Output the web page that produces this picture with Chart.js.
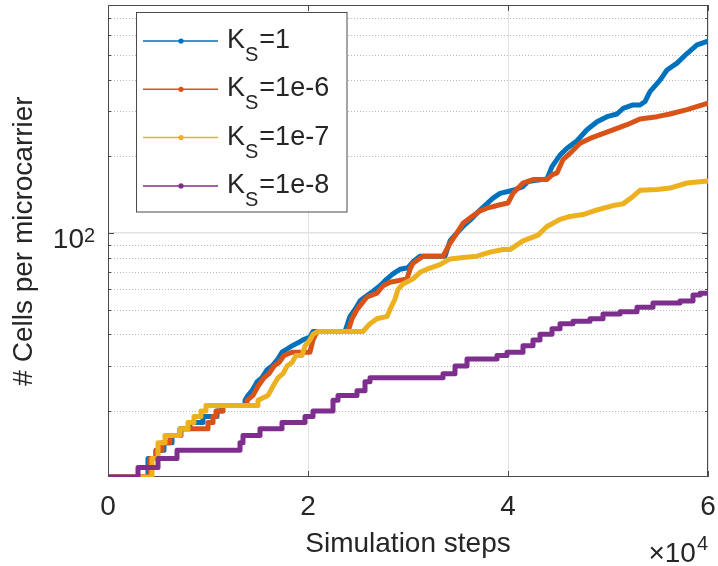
<!DOCTYPE html>
<html>
<head>
<meta charset="utf-8">
<script src="https://cdn.jsdelivr.net/npm/chart.js@4.4.0/dist/chart.umd.min.js"></script>
<style>
  html, body { margin: 0; padding: 0; background: #fff; }
  canvas { display: block; }
</style>
</head>
<body>
<canvas id="chart" width="718" height="566"></canvas>
<script>
// data: simulation step vs cells per microcarrier
const ksValues = ['1', '1e-6', '1e-7', '1e-8'];
const colors = ['#0072BD', '#D95319', '#EDB120', '#7E2F8E'];

const ks1X = [0,4000,4000,4800,4800,5600,5600,6400,6400,7200,7200,8200,8200,9500,9500,10900,10900,11400,11400,13700,13700,14000,14400,14900,15400,15900,16400,17000,17400,17900,18400,19000,19500,20200,20500,23700,24200,24700,25200,25700,26500,27200,27900,28500,29200,30000,30500,31200,33700,34200,34900,35500,36400,37200,38500,39200,40500,41500,42000,43900,44400,45200,45900,46900,47900,48900,49900,50900,51500,52500,53200,53700,54200,55200,55900,56900,57900,58900,60000];
const ks1Y = [11,11,13,13,14,14,15,15,16,16,17,17,18,18,19,19,20,20,21,21,22,23,24,26,27,29,30,32,34,35,36,37,38,39,41,41,47,50,54,56,59,62,66,69,72,73,77,81,81,93,100,106,114,123,137,143,147,152,159,163,182,202,215,230,254,273,286,293,308,318,318,328,359,398,436,464,506,547,567];

const ks6X = [0,4200,4200,4800,4800,5400,5400,6200,6200,7300,7300,10000,10000,10500,10500,10800,10800,11500,11500,13900,13900,14500,15000,15600,16100,16600,17100,17600,18400,20200,20500,20900,24000,24400,24900,25400,25900,26900,27500,28200,29900,30200,30500,31500,33500,34200,34900,35500,36400,37200,37900,39200,40000,40500,41500,42500,43900,44400,44900,45500,46400,47200,48200,49200,50500,51900,53200,54900,56200,57900,60000];
const ks6Y = [11,11,13,13,14,14,15,15,16,16,17,17,18,18,19,19,20,20,21,21,22,23,25,27,28,30,31,33,34,34,38,41,41,46,50,53,56,58,62,64,66,72,76,81,81,91,100,109,116,122,125,129,131,143,157,162,162,169,172,194,209,225,235,243,254,266,280,286,293,305,323];

const ks7X = [0,4400,4400,5000,5000,5700,5700,7200,7200,8000,8000,8600,8600,9300,9300,9800,9800,15000,15000,16000,16500,17000,17500,17900,18400,18800,19400,19700,20200,20500,21000,25500,26200,26900,27900,28200,28700,29000,29500,30500,31200,31900,33200,34200,35500,36900,38200,39500,40200,41500,43000,43900,45200,46200,47500,48900,50500,51500,52500,53200,54900,56200,57900,60000];
const ks7Y = [11,11,13,13,15,15,16,16,17,17,18,18,19,19,20,20,21,21,22,23,25,27,28,30,31,33,33,36,38,40,41,41,44,46,47,50,55,60,63,66,70,72,75,79,80,81,84,86,86,93,98,106,113,116,118,123,128,130,139,147,148,150,157,160];

const ks8X = [0,3000,3000,5000,5000,6900,6900,13200,13200,13500,13500,15200,15200,17400,17400,19700,19700,20500,20500,22500,22500,23000,23000,24900,24900,25700,25700,26200,26200,33500,33500,34700,34700,35900,35900,38900,38900,39900,39900,41500,41500,42500,42500,43200,43200,44400,44400,45200,45200,46500,46500,48200,48200,49500,49500,51200,51200,52900,52900,54500,54500,57200,57200,58500,58500,59200,59200,60000];
const ks8Y = [11,11,12,12,13,13,14,14,15,15,16,16,17,17,18,18,19,19,20,20,22,22,23,23,24,24,26,26,27,27,28,28,30,30,32,32,33,33,34,34,36,36,38,38,40,40,42,42,44,44,45,45,46,46,48,48,49,49,51,51,53,53,54,54,57,57,58,58];

const xTicks = [0, 20000, 40000, 60000];
const yMajorTicks = [100];
const yMinorTicks = [20, 30, 40, 50, 60, 70, 80, 90, 200, 300, 400, 500, 600, 700];

const seriesX = [ks1X, ks6X, ks7X, ks8X];
const seriesY = [ks1Y, ks6Y, ks7Y, ks8Y];

const FONT = '"Liberation Sans", Arial, Helvetica, sans-serif';
const TEXT = '#262626';
const AXIS = '#4a4a4a';

Chart.defaults.font.family = FONT;
Chart.defaults.color = TEXT;

const datasets = ksValues.map((k, i) => ({
  label: 'K_S=' + k,
  data: seriesX[i].map((x, j) => ({ x: x, y: seriesY[i][j] })),
  borderColor: colors[i],
  backgroundColor: colors[i],
  borderWidth: 5,
  borderCapStyle: 'round',
  borderJoinStyle: 'round',
  pointRadius: 0,
  fill: false,
  tension: 0,
  order: ksValues.length - i,
}));

function line(ctx, x1, y1, x2, y2) {
  ctx.beginPath();
  ctx.moveTo(x1, y1);
  ctx.lineTo(x2, y2);
  ctx.stroke();
}

// minor grid, box, inward ticks, exponents
const matlabAxes = {
  id: 'matlabAxes',
  beforeDatasetsDraw(chart) {
    const { ctx, chartArea: a, scales: { y } } = chart;
    ctx.save();
    ctx.strokeStyle = '#b9b9b9';
    ctx.lineWidth = 1;
    ctx.setLineDash([1, 2]);
    yMinorTicks.forEach(v => {
      const py = Math.round(y.getPixelForValue(v)) + 0.5;
      line(ctx, a.left, py, a.right, py);
    });
    ctx.setLineDash([]);
    ctx.strokeStyle = AXIS;
    ctx.strokeRect(a.left + 0.5, a.top + 0.5, a.right - a.left - 1, a.bottom - a.top - 1);
    ctx.restore();
  },
  afterDatasetsDraw(chart) {
    const { ctx, chartArea: a, scales: { x, y } } = chart;
    ctx.save();
    ctx.strokeStyle = AXIS;
    ctx.lineWidth = 1;
    xTicks.forEach(v => {
      const px = Math.round(x.getPixelForValue(v)) + 0.5;
      line(ctx, px, a.bottom, px, a.bottom - 6);
      line(ctx, px, a.top, px, a.top + 6);
    });
    yMajorTicks.forEach(v => {
      const py = Math.round(y.getPixelForValue(v)) + 0.5;
      line(ctx, a.left, py, a.left + 6, py);
      line(ctx, a.right, py, a.right - 6, py);
    });
    yMinorTicks.forEach(v => {
      const py = Math.round(y.getPixelForValue(v)) + 0.5;
      line(ctx, a.left, py, a.left + 3, py);
      line(ctx, a.right, py, a.right - 3, py);
    });
    ctx.fillStyle = TEXT;
    ctx.textBaseline = 'alphabetic';
    ctx.textAlign = 'left';
    // exponent of the y tick label (10^2)
    ctx.font = '20px ' + FONT;
    yMajorTicks.forEach(v => {
      const py = y.getPixelForValue(v);
      ctx.fillText(String(Math.round(Math.log10(v))), a.left - 24, py + 9);
    });
    // x10^4 multiplier under the axis end
    ctx.font = '20px ' + FONT;
    const w4 = ctx.measureText('4').width;
    ctx.fillText('4', a.right - w4, 550);
    ctx.font = '28px ' + FONT;
    ctx.textAlign = 'right';
    ctx.fillText('\u00d710', a.right - w4 - 1, 562);
    ctx.restore();
  },
};

// boxed legend with subscript S
const matlabLegend = {
  id: 'matlabLegend',
  afterDraw(chart) {
    const ctx = chart.ctx;
    const box = { left: 136.5, top: 12.5, right: 347, bottom: 212 };
    ctx.save();
    ctx.fillStyle = '#fff';
    ctx.fillRect(box.left, box.top, box.right - box.left, box.bottom - box.top);
    ctx.strokeStyle = AXIS;
    ctx.lineWidth = 1;
    ctx.strokeRect(box.left, box.top, box.right - box.left, box.bottom - box.top);
    chart.data.datasets.forEach((ds, i) => {
      const ry = 41 + i * 48.3;
      ctx.strokeStyle = ds.borderColor;
      ctx.lineWidth = 1.5;
      line(ctx, 143, ry, 218, ry);
      ctx.fillStyle = ds.borderColor;
      ctx.beginPath();
      ctx.arc(181, ry, 2.6, 0, Math.PI * 2);
      ctx.fill();
      ctx.fillStyle = TEXT;
      ctx.textAlign = 'left';
      ctx.textBaseline = 'alphabetic';
      ctx.font = '27px ' + FONT;
      ctx.fillText('K', 227, ry + 7);
      let cx = 227 + ctx.measureText('K').width;
      ctx.font = '20px ' + FONT;
      ctx.fillText('S', cx, ry + 20);
      cx += ctx.measureText('S').width + 1;
      ctx.font = '27px ' + FONT;
      ctx.fillText('=' + ksValues[i], cx, ry + 7);
    });
    ctx.restore();
  },
};

new Chart(document.getElementById('chart'), {
  type: 'line',
  data: { datasets: datasets },
  plugins: [matlabAxes, matlabLegend],
  options: {
    responsive: false,
    devicePixelRatio: 1,
    animation: false,
    layout: { padding: { top: 5, right: 10, bottom: 0, left: 0 } },
    plugins: {
      legend: { display: false },
      tooltip: { enabled: false },
    },
    scales: {
      x: {
        type: 'linear',
        min: 0,
        max: 60000,
        afterBuildTicks: s => { s.ticks = xTicks.map(v => ({ value: v })); },
        afterFit: s => { s.height = 89; s.paddingLeft = 0; s.paddingRight = 0; },
        ticks: {
          color: TEXT,
          font: { size: 28 },
          padding: 13,
          maxRotation: 0,
          autoSkip: false,
          callback: v => String(v / 10000),
        },
        grid: { color: '#e2e2e2', lineWidth: 1, drawTicks: false },
        border: { display: false },
        title: {
          display: true,
          text: 'Simulation steps',
          color: TEXT,
          font: { size: 28 },
          padding: { top: 0, bottom: 5 },
        },
      },
      y: {
        type: 'logarithmic',
        min: 11,
        max: 785,
        afterBuildTicks: s => { s.ticks = yMajorTicks.map(v => ({ value: v })); },
        afterFit: s => { s.width = 108; s.paddingTop = 0; s.paddingBottom = 0; },
        ticks: {
          color: TEXT,
          font: { size: 28 },
          padding: 24,
          labelOffset: 7,
          autoSkip: false,
          callback: () => '10',
        },
        grid: { color: '#e2e2e2', lineWidth: 1.5, drawTicks: false },
        border: { display: false },
        title: {
          display: true,
          text: '# Cells per microcarrier',
          color: TEXT,
          font: { size: 28 },
          padding: { top: 7, bottom: 0 },
        },
      },
    },
  },
});
</script>
</body>
</html>
